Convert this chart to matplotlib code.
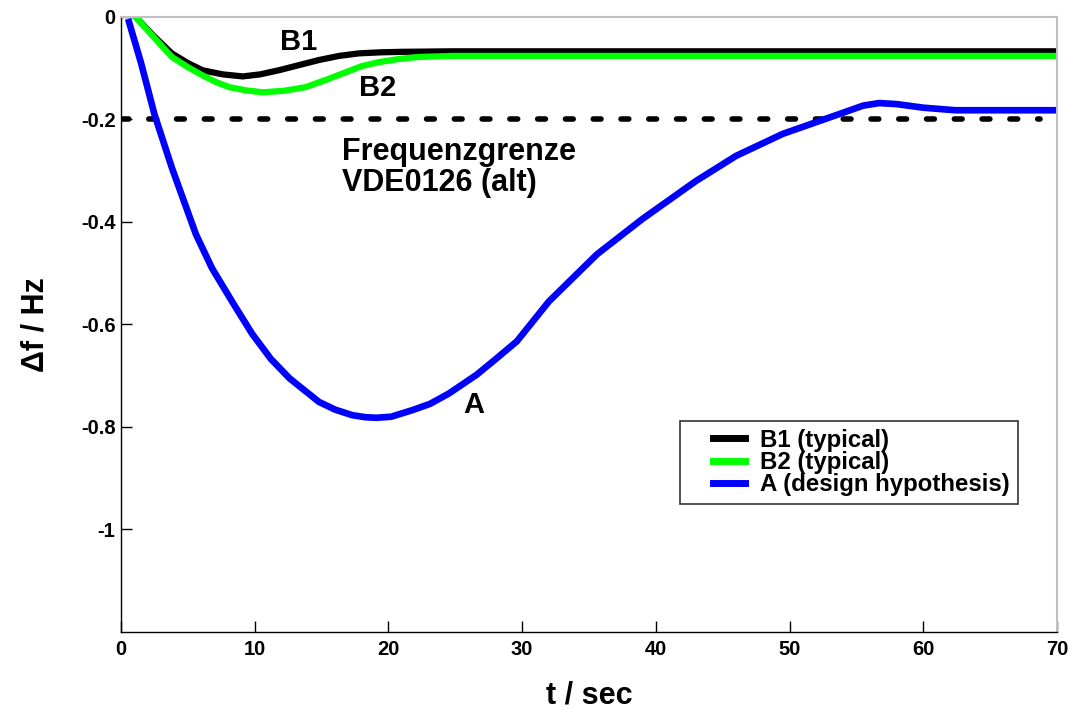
import matplotlib
matplotlib.use("Agg")
import matplotlib.pyplot as plt
from matplotlib.legend_handler import HandlerLine2D
import numpy as np

plt.rcParams['font.family'] = ['Liberation Sans', 'DejaVu Sans']
plt.rcParams['font.weight'] = 'bold'

# curve A (design hypothesis)
t_a = [0.6, 1.5, 2.5, 3.8, 5.6, 6.8, 8.3, 9.8, 11.2, 12.6, 14.8, 16.0, 17.3, 18.3, 19.1, 20.2,
       21.8, 23.1, 24.5, 26.6, 28.0, 29.6, 32.0, 35.6, 39.0, 43.0, 46.0, 49.5, 53.0, 55.5,
       56.7, 58.0, 60.0, 62.4, 69.8]
f_a = [-0.01, -0.09, -0.19, -0.294, -0.424, -0.49, -0.555, -0.618, -0.667, -0.705, -0.751, -0.766,
       -0.777, -0.781, -0.782, -0.780, -0.767, -0.755, -0.735, -0.698, -0.668, -0.633, -0.555,
       -0.463, -0.394, -0.320, -0.271, -0.228, -0.196, -0.173, -0.168, -0.170, -0.177, -0.182, -0.182]

# curve B1 (typical)
t_b1 = [1.1, 2.4, 3.8, 5.0, 6.1, 7.6, 9.1, 10.4, 11.8, 13.3, 14.8, 16.3, 17.8, 19.4, 21.0, 24.8, 69.8]
f_b1 = [0.0, -0.036, -0.071, -0.090, -0.104, -0.112, -0.116, -0.112, -0.104, -0.094, -0.084,
        -0.076, -0.071, -0.069, -0.068, -0.067, -0.067]

# curve B2 (typical)
t_b2 = [1.1, 2.4, 3.8, 5.0, 6.1, 7.1, 8.1, 9.3, 10.6, 12.2, 13.8, 15.3, 16.8, 18.0, 19.3,
        20.8, 22.3, 24.8, 69.8]
f_b2 = [0.0, -0.038, -0.078, -0.098, -0.114, -0.127, -0.137, -0.143, -0.147, -0.144, -0.137,
        -0.123, -0.108, -0.096, -0.088, -0.082, -0.078, -0.076, -0.076]

limit_t = [0.0, 68.7]
limit_f = [-0.2, -0.2]

x_ticks = [0, 10, 20, 30, 40, 50, 60, 70]
y_ticks = [0, -0.2, -0.4, -0.6, -0.8, -1.0]
y_labels = ['0', '-0.2', '-0.4', '-0.6', '-0.8', '-1']


class ShortLine(HandlerLine2D):
    # legend line drawn only on the right part of the handle box
    def get_xdata(self, legend, xdescent, ydescent, width, height, fontsize):
        xd = np.array([-xdescent + width * 0.44, -xdescent + width])
        return xd, xd


fig = plt.figure(figsize=(10.72, 7.13), dpi=100)
ax = fig.add_axes([0.1129, 0.1136, 0.8731, 0.8626])

ax.plot(limit_t, limit_f, color='black', lw=4, ls=(0, (1.4, 3.6)), dash_capstyle='round')
ax.plot(t_b1, f_b1, color='black', lw=4.5, label='B1 (typical)')
ax.plot(t_b2, f_b2, color='#00ff00', lw=4.5, label='B2 (typical)')
ax.plot(t_a, f_a, color='#0000ff', lw=4.8, label='A (design hypothesis)')

ax.set_xlim(0, 70)
ax.set_ylim(-1.2, 0)
ax.set_xticks(x_ticks)
ax.set_xticklabels([str(v) for v in x_ticks], fontsize=14.5, fontweight='bold')
ax.set_yticks(y_ticks)
ax.set_yticklabels(y_labels, fontsize=14.5, fontweight='bold')
ax.tick_params(direction='in', length=8, width=1, top=False, right=False)
ax.tick_params(axis='x', pad=6)
ax.tick_params(axis='y', pad=4)

for s in ['top', 'right']:
    ax.spines[s].set_color('#c0c0c0')
    ax.spines[s].set_linewidth(1.5)
for s in ['left', 'bottom']:
    ax.spines[s].set_color('black')
    ax.spines[s].set_linewidth(1)

ax.set_xlabel('t / sec', fontsize=22, fontweight='bold', labelpad=15)
ax.set_ylabel('\u0394f / Hz', fontsize=22, fontweight='bold', labelpad=22)

ax.text(13.25, -0.049, 'B1', fontsize=21, fontweight='bold', ha='center', va='center')
ax.text(19.2, -0.139, 'B2', fontsize=21, fontweight='bold', ha='center', va='center')
ax.text(16.5, -0.235, 'Frequenzgrenze\nVDE0126 (alt)', fontsize=22, fontweight='bold',
        ha='left', va='top', linespacing=1.02)
ax.text(26.4, -0.757, 'A', fontsize=21, fontweight='bold', ha='center', va='center')

leg = ax.legend(loc='upper right', bbox_to_anchor=(0.958, 0.343), borderaxespad=0,
                fontsize=17.3, frameon=True, fancybox=False, edgecolor='black',
                handlelength=2.4, handletextpad=0.63, borderpad=0.32, labelspacing=-0.03,
                handler_map={plt.Line2D: ShortLine()})
leg.get_frame().set_linewidth(1.2)
for line in leg.get_lines():
    line.set_linewidth(5)

fig.savefig('out.png', dpi=100)
